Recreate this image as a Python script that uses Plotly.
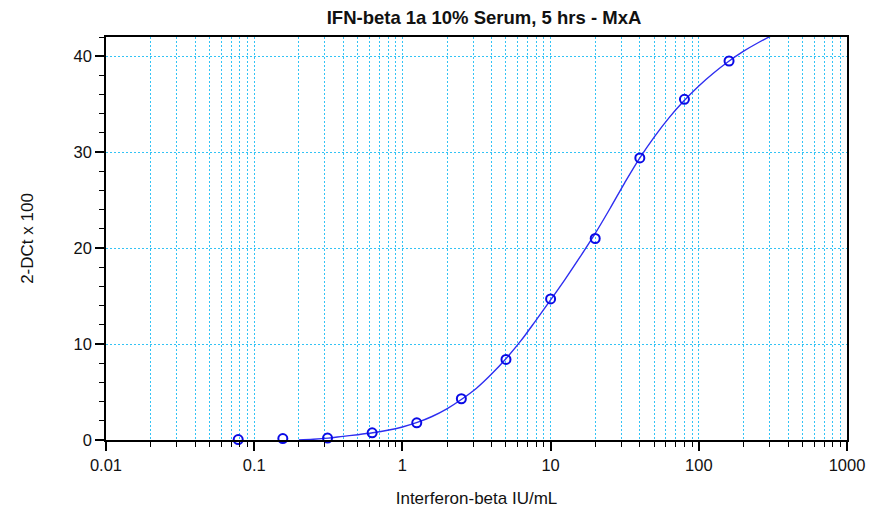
import plotly.graph_objects as go

# Measured points
conc = [0.078, 0.156, 0.3125, 0.625, 1.25, 2.5, 5, 10, 20, 40, 80, 160]
resp = [0.05, 0.15, 0.2, 0.75, 1.79, 4.3, 8.4, 14.7, 21.0, 29.4, 35.5, 39.5]

# Fitted curve
fit_x = [0.2, 0.251, 0.316, 0.398, 0.501, 0.631, 0.794, 1, 1.259, 1.585, 1.995, 2.512,
         3.162, 3.981, 5.012, 6.31, 7.943, 10, 12.59, 15.85, 19.95, 25.12, 31.62, 39.81,
         50.12, 63.1, 79.43, 100, 125.9, 158.5, 199.5, 251.2, 316.2, 398.1]
fit_y = [0.0, 0.08, 0.2, 0.38, 0.55, 0.75, 1.01, 1.36, 1.83, 2.45, 3.25, 4.25,
         5.4, 6.85, 8.5, 10.35, 12.45, 14.6, 16.8, 19.1, 21.5, 24.1, 26.8, 29.35,
         31.6, 33.6, 35.35, 36.9, 38.25, 39.45, 40.5, 41.4, 42.2, 42.9]

title_text = "IFN-beta 1a 10% Serum, 5 hrs - MxA"
x_title = "Interferon-beta IU/mL"
y_title = "2-DCt x 100"
x_ticks = [0.01, 0.1, 1, 10, 100, 1000]
x_ticklabels = ["0.01", "0.1", "1", "10", "100", "1000"]
y_ticks = [0, 10, 20, 30, 40]

grid_col = "#33C3F5"
font_fam = "Liberation Sans, Arial, sans-serif"

fig = go.Figure()
fig.add_trace(go.Scatter(x=fit_x, y=fit_y, mode="lines", line=dict(color="#2E2EF0", width=1.4, shape="spline"),
                         hoverinfo="skip", showlegend=False))
fig.add_trace(go.Scatter(x=conc, y=resp, mode="markers", cliponaxis=False,
                         marker=dict(symbol="circle-open", size=9, color="#0A0AE6", line=dict(width=2, color="#0A0AE6")),
                         showlegend=False))

fig.update_layout(
    width=871, height=509,
    margin=dict(l=106, r=24, t=37, b=69),
    paper_bgcolor="white", plot_bgcolor="white",
    font=dict(family=font_fam, size=16, color="#111"),
    title=dict(text=title_text, x=484/871, xanchor="center", y=1 - 18/509, yanchor="middle",
               font=dict(family=font_fam, size=18.5, color="#111", weight="bold")),
)
fig.update_xaxes(
    type="log", range=[-2, 3], automargin=False,
    tickvals=x_ticks, ticktext=x_ticklabels,
    ticks="outside", ticklen=9, tickwidth=1.5, tickcolor="black",
    showline=True, linecolor="black", linewidth=1.5, mirror=True,
    showgrid=True, gridcolor=grid_col, gridwidth=1, griddash="2px,2px",
    minor=dict(dtick="D1", ticks="outside", ticklen=5, tickcolor="black", tickwidth=1,
               showgrid=True, gridcolor=grid_col, gridwidth=1, griddash="2px,2px"),
    zeroline=False,
    title=dict(text=x_title, standoff=20, font=dict(size=17)),
    tickfont=dict(size=16.5),
)
fig.update_yaxes(
    range=[0, 42], tickvals=y_ticks, automargin=False,
    ticks="outside", ticklen=9, tickwidth=1.5, tickcolor="black",
    showline=True, linecolor="black", linewidth=1.5, mirror=True,
    showgrid=True, gridcolor=grid_col, gridwidth=1, griddash="2px,2px",
    minor=dict(dtick=2, ticks="outside", ticklen=5, tickcolor="black", tickwidth=1, showgrid=False),
    zeroline=False,
    title=dict(text=y_title, standoff=36, font=dict(size=17)),
    tickfont=dict(size=16.5),
)

fig.write_html("out.html")
